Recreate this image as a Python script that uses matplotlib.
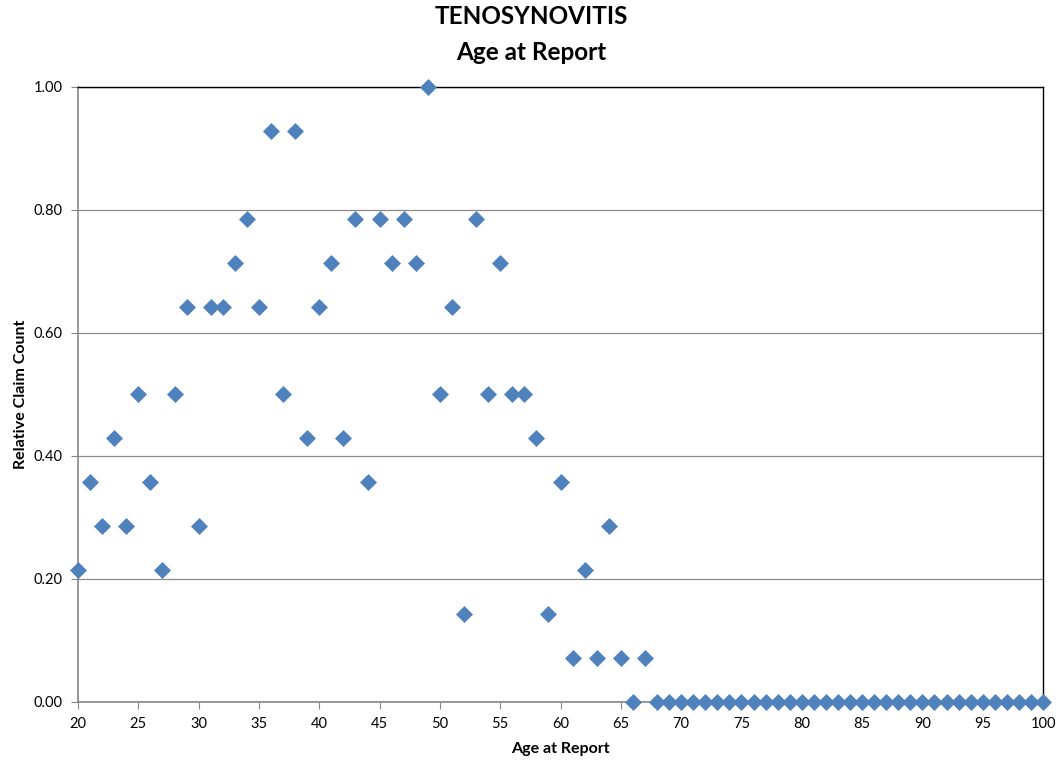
import matplotlib.pyplot as plt
import numpy as np

plt.rcParams['font.family'] = ['Lato', 'DejaVu Sans']

ages = list(range(20, 101))
# relative claim count per age (20..67), zero from 68 on
counts = [0.214, 0.357, 0.286, 0.429, 0.286, 0.500, 0.357, 0.214, 0.500, 0.643,
          0.286, 0.643, 0.643, 0.714, 0.786, 0.643, 0.929, 0.500, 0.929, 0.429,
          0.643, 0.714, 0.429, 0.786, 0.357, 0.786, 0.714, 0.786, 0.714, 1.000,
          0.500, 0.643, 0.143, 0.786, 0.500, 0.714, 0.500, 0.500, 0.429, 0.143,
          0.357, 0.071, 0.214, 0.071, 0.286, 0.071, 0.000, 0.071]
counts = counts + [0.0] * (len(ages) - len(counts))

fig = plt.figure(figsize=(10.6, 7.65), dpi=100)
ax = fig.add_axes([0.0736, 0.0824, 0.9104, 0.8039])

ax.scatter(ages, counts, marker='D', s=75, color='#4F81BD', zorder=3, clip_on=False, linewidths=0)

ax.set_xlim(20, 100)
ax.set_ylim(0, 1)
ax.set_xticks(np.arange(20, 101, 5))
ax.set_yticks(np.arange(0, 1.01, 0.2))
ax.set_yticklabels(['%.2f' % v for v in np.arange(0, 1.01, 0.2)])
ax.yaxis.grid(True, color='#8c8c8c', linewidth=0.9)
ax.set_axisbelow(True)

for s in ['top', 'right']:
    ax.spines[s].set_color('black')
    ax.spines[s].set_linewidth(1.0)
for s in ['left', 'bottom']:
    ax.spines[s].set_color('#868686')
    ax.spines[s].set_linewidth(1.2)
ax.tick_params(axis='both', direction='out', length=5, color='#868686', labelsize=10.5, pad=6)

ax.set_xlabel('Age at Report', fontsize=11.5, fontweight='bold', labelpad=8)
ax.set_ylabel('Relative Claim Count', fontsize=11.5, fontweight='bold', labelpad=4)
fig.text(0.501, 0.978, 'TENOSYNOVITIS', fontsize=17.5, fontweight='bold', ha='center', va='center')
fig.text(0.501, 0.932, 'Age at Report', fontsize=17.5, fontweight='bold', ha='center', va='center')

fig.savefig('out.png', dpi=100)
